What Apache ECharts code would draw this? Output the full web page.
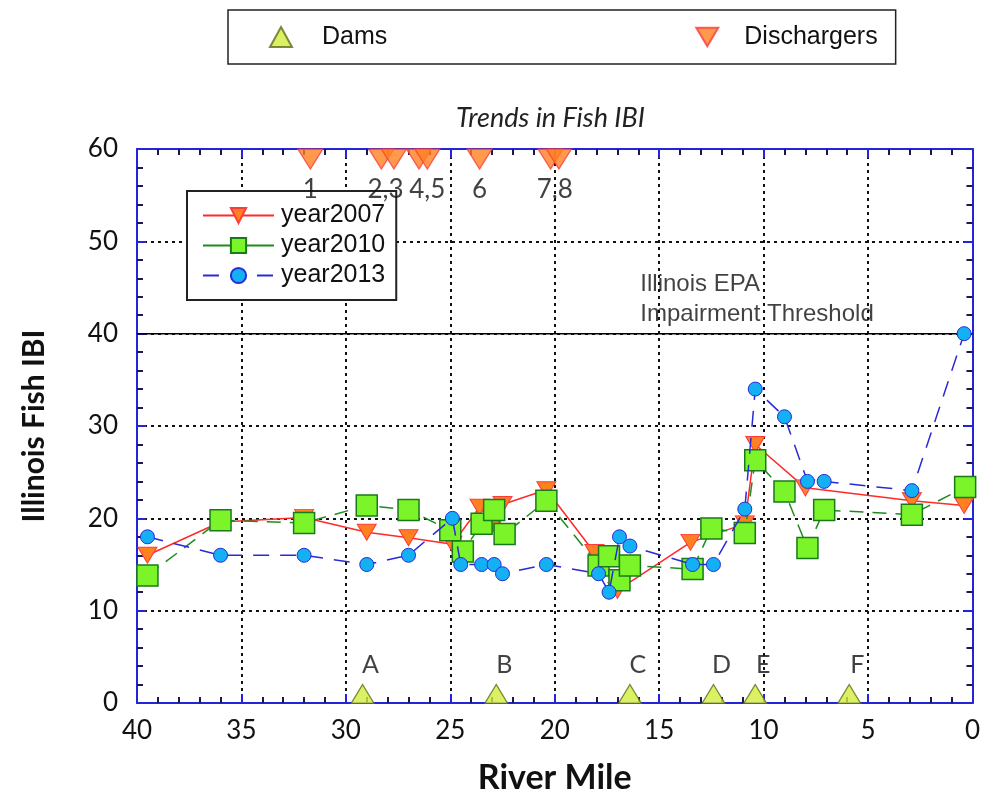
<!DOCTYPE html>
<html>
<head>
<meta charset="utf-8">
<script src="https://cdn.jsdelivr.net/npm/echarts@6/dist/echarts.min.js"></script>
<style>html,body{margin:0;padding:0;background:#fff;}#c{width:983px;height:800px;}</style>
</head>
<body>
<div id="c"></div>
<script>
// ---- data ----
var miles2007 = [39.5, 36, 32, 29, 27, 24.9, 23.6, 22.9, 22.5, 20.4, 18.1, 17, 13.5, 10.9, 10.4, 8, 2.9, 0.4];
var ibi2007   = [16, 19.6, 20.1, 18.5, 17.9, 17.2, 21.2, 19.4, 21.5, 23.1, 16.3, 12.2, 17.4, 19.4, 28, 23.3, 21.9, 21.4];

var miles2010 = [39.5, 36, 32, 29, 27, 25, 24.4, 23.5, 22.9, 22.4, 20.4, 17.9, 17.4, 16.9, 16.4, 13.4, 12.5, 10.9, 10.4, 9, 7.9, 7.1, 2.9, 0.35];
var ibi2010   = [13.8, 19.8, 19.5, 21.4, 20.9, 18.7, 16.4, 19.4, 20.9, 18.3, 21.9, 14.9, 15.9, 13.3, 14.9, 14.5, 18.9, 18.4, 26.3, 22.9, 16.8, 20.9, 20.4, 23.4];

var miles2013 = [39.5, 36, 32, 29, 27, 24.9, 24.5, 23.5, 22.9, 22.5, 20.4, 17.9, 17.4, 16.9, 16.4, 13.4, 12.4, 10.9, 10.4, 9, 7.9, 7.1, 2.9, 0.4];
var ibi2013   = [18, 16, 16, 15, 16, 20, 15, 15, 15, 14, 15, 14, 12, 18, 17, 15, 15, 21, 34, 31, 24, 24, 23, 40];

var damMiles  = [29.2, 22.8, 16.4, 12.4, 10.4, 5.9];
var damLabels = ['A', 'B', 'C', 'D', 'E', 'F'];

var dischargerMiles = [31.7, 28.3, 27.7, 26.5, 26.1, 23.6, 20.2, 19.8];
var dischargerLabelMiles = [31.7, 28.1, 26.1, 23.6, 20.0];
var dischargerLabels = ['1', '2,3', '4,5', '6', '7,8'];

var thresholdValue = 40;
var thresholdText = 'Illinois EPA\nImpairment Threshold';
var thresholdTextMile = 15.9;

var xTicks = {min: 0, max: 40, interval: 5};
var yTicks = {min: 0, max: 60, interval: 10};

// ---- helpers ----
function pairs(xs, ys) { return xs.map(function (x, i) { return [x, ys[i]]; }); }

var axisBlue = '#2424d8';
var gridLine = {show: true, lineStyle: {color: '#111', type: [3, 4], width: 2}};

function xAx(pos, labels) {
  return {
    type: 'value', position: pos, inverse: true,
    min: xTicks.min, max: xTicks.max, interval: xTicks.interval,
    axisLine: {show: true, onZero: false, lineStyle: {color: axisBlue, width: 2}},
    axisTick: {show: true, inside: true, length: 9, lineStyle: {color: axisBlue, width: 2}},
    minorTick: {show: true, splitNumber: 5, length: 6, lineStyle: {color: '#1a1a50', width: 2}},
    splitLine: labels ? gridLine : {show: false},
    axisLabel: labels ? {show: true, color: '#111', fontFamily: 'Lato', fontSize: 26, margin: 15} : {show: false},
    name: labels ? 'River Mile' : '',
    nameLocation: 'middle', nameGap: 58,
    nameTextStyle: {fontFamily: 'Lato', fontWeight: 'bold', fontSize: 34, color: '#111'}
  };
}
function yAx(pos, labels) {
  return {
    type: 'value', position: pos,
    min: yTicks.min, max: yTicks.max, interval: yTicks.interval,
    axisLine: {show: true, onZero: false, lineStyle: {color: axisBlue, width: 2}},
    axisTick: {show: true, inside: true, length: 9, lineStyle: {color: axisBlue, width: 2}},
    minorTick: {show: true, splitNumber: 5, length: 6, lineStyle: {color: '#1a1a50', width: 2}},
    splitLine: labels ? gridLine : {show: false},
    axisLabel: labels ? {show: true, color: '#111', fontFamily: 'Lato', fontSize: 26, margin: 19} : {show: false},
    name: labels ? 'Illinois Fish IBI' : '',
    nameLocation: 'middle', nameGap: 88,
    nameTextStyle: {fontFamily: 'Lato', fontWeight: 'bold', fontSize: 30, color: '#111'}
  };
}

var chart = echarts.init(document.getElementById('c'), null, {renderer: 'canvas'});

var triFill = '#ff8020', triStroke = '#ff3a3a';
var downTri = 'path://M0,0 L20,0 L10,17 Z';

var option = {
  animation: false,
  backgroundColor: '#fff',
  title: {
    text: 'Trends in Fish IBI', left: 451, top: 100,
    textStyle: {fontFamily: 'Lato', fontStyle: 'italic', fontWeight: 'normal', fontSize: 27, color: '#222'}
  },
  grid: {left: 137, right: 8, top: 149, bottom: 96, containLabel: false},
  xAxis: [xAx('bottom', true), xAx('top', false)],
  yAxis: [yAx('left', true), yAx('right', false)],
  legend: [
    {
      data: [
        {name: 'Dams', textStyle: {padding: [0, 0, 0, 25]}},
        {name: 'Dischargers', icon: downTri, textStyle: {padding: [0, 0, 0, 21]}}
      ],
      left: 228, top: 10, orient: 'horizontal',
      padding: [13, 18, 13, 41], itemGap: 308,
      itemWidth: 22, itemHeight: 20,
      borderColor: '#222', borderWidth: 1.5, backgroundColor: '#fff',
      textStyle: {fontFamily: 'Liberation Sans', fontSize: 25, color: '#111', lineHeight: 28}
    },
    {
      data: [
        {name: 'year2007'},
        {name: 'year2010', lineStyle: {type: 'solid'}},
        {name: 'year2013'}
      ],
      left: 187, top: 191, orient: 'vertical',
      padding: [12, 11, 12, 15], itemGap: 5,
      itemWidth: 71, itemHeight: 19,
      borderColor: '#222', borderWidth: 2, backgroundColor: '#fff',
      textStyle: {fontFamily: 'Liberation Sans', fontSize: 25, color: '#111', lineHeight: 24, padding: [0, 0, 0, 2]}
    }
  ],
  series: [
    {
      name: 'threshold', type: 'line', data: [[xTicks.max, thresholdValue], [xTicks.min, thresholdValue]],
      symbol: 'none', lineStyle: {color: '#000', width: 1.5}, z: 1, silent: true
    },
    {
      name: 'thresholdLabel', type: 'scatter', data: [[thresholdTextMile, thresholdValue]],
      symbolSize: 0.1, z: 1, silent: true,
      label: {
        show: true, formatter: thresholdText, position: [0, 0], align: 'left', verticalAlign: 'bottom',
        offset: [0, -4], fontFamily: 'Liberation Sans', fontSize: 24, lineHeight: 30, color: '#111'
      }
    },
    {
      name: 'year2007', type: 'line', data: pairs(miles2007, ibi2007), z: 3,
      symbol: 'triangle', symbolRotate: 180, symbolSize: [19, 16],
      lineStyle: {color: '#ff2a2a', width: 1.5},
      itemStyle: {color: triFill, borderColor: triStroke, borderWidth: 1}
    },
    {
      name: 'year2010', type: 'line', data: pairs(miles2010, ibi2010), z: 4,
      symbol: 'rect', symbolSize: 21,
      lineStyle: {color: '#1f8c1f', width: 1.5, type: [14, 9]},
      itemStyle: {color: '#7cf42a', borderColor: '#1a7a1a', borderWidth: 1.5}
    },
    {
      name: 'year2013', type: 'line', data: pairs(miles2013, ibi2013), z: 5,
      symbol: 'circle', symbolSize: 14,
      lineStyle: {color: '#2a2ad8', width: 1.5, type: [16, 11]},
      itemStyle: {color: '#14b0f4', borderColor: '#2a2ad8', borderWidth: 1}
    },
    {
      name: 'Dams', type: 'scatter', clip: false, z: 6,
      data: damMiles.map(function (m, i) { return {value: [m, 0], name: damLabels[i]}; }),
      symbol: 'triangle', symbolSize: [23, 19], symbolOffset: [0, -9],
      itemStyle: {color: '#d2ee3c', borderColor: '#5f6a1c', borderWidth: 1.2},
      label: {show: true, position: 'top', distance: 7, offset: [8, 0], formatter: '{b}',
              fontFamily: 'Lato', fontSize: 25, color: '#111'}
    },
    {
      name: 'Dischargers', type: 'scatter', clip: false, z: 6,
      data: dischargerMiles.map(function (m) { return [m, 60]; }),
      symbol: 'triangle', symbolRotate: 180, symbolSize: [25, 20], symbolOffset: [0, 10],
      itemStyle: {color: triFill, borderColor: triStroke, borderWidth: 1.2}
    },
    {
      name: 'dischargerLabels', type: 'scatter', clip: false, z: 6, silent: true,
      data: dischargerLabelMiles.map(function (m, i) { return {value: [m, 60], name: dischargerLabels[i]}; }),
      symbolSize: 0.1,
      label: {show: true, position: 'bottom', distance: 28, formatter: '{b}',
              fontFamily: 'Lato', fontSize: 26, color: '#111'}
    }
  ]
};
chart.setOption(option);
</script>
</body>
</html>
